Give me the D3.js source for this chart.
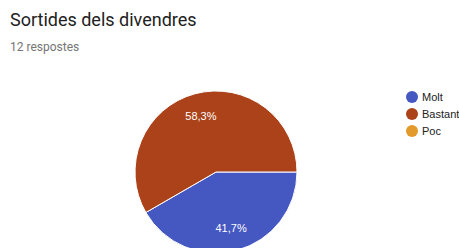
<!DOCTYPE html>
<html>
<head>
<meta charset="utf-8">
<script src="https://cdn.jsdelivr.net/npm/d3@7"></script>
<style>
  body { margin: 0; background: #fff; }
  svg { display: block; }
</style>
</head>
<body>
<svg></svg>
<script>
'use strict';

const categories = ["Molt", "Bastant", "Poc"];
const counts = [5, 7, 0];
const colors = ["#4557c1", "#ab4219", "#e29a2b"];
const title = "Sortides dels divendres";
const subtitle = "12 respostes";

const width = 459, height = 248;
const svg = d3.select("svg").attr("width", width).attr("height", height);

svg.append("text")
  .attr("x", 10).attr("y", 26)
  .style("font-family", "Roboto, Arial, sans-serif")
  .style("font-size", "18px")
  .style("fill", "#212121")
  .text(title);

svg.append("text")
  .attr("x", 10).attr("y", 51)
  .style("font-family", "Roboto, Arial, sans-serif")
  .style("font-size", "12px")
  .style("fill", "#757575")
  .text(subtitle);

const total = d3.sum(counts);
const data = categories.map((c, i) => ({ name: c, value: counts[i], color: colors[i] }));

const radius = 81;
const pie = d3.pie().value(d => d.value).sort(null)
  .startAngle(Math.PI / 2).endAngle(Math.PI / 2 + 2 * Math.PI);
const arc = d3.arc().innerRadius(0).outerRadius(radius);
const labelArc = d3.arc().innerRadius(radius * 0.72).outerRadius(radius * 0.72);

const g = svg.append("g").attr("transform", "translate(216,172)");
const arcs = pie(data).filter(d => d.data.value > 0);

g.selectAll("path")
  .data(arcs)
  .enter()
  .append("path")
  .attr("d", arc)
  .attr("fill", d => d.data.color)
  .attr("stroke", "#fff")
  .attr("stroke-width", 1);

const fmt = v => (v * 100).toFixed(1).replace(".", ",") + "%";

g.selectAll(".lbl")
  .data(arcs)
  .enter()
  .append("text")
  .attr("class", "lbl")
  .attr("transform", d => `translate(${labelArc.centroid(d)})`)
  .attr("text-anchor", "middle")
  .attr("dy", "0.35em")
  .style("font-family", "Arial, 'Liberation Sans', sans-serif")
  .style("font-size", "11px")
  .style("fill", "#fff")
  .text(d => fmt(d.data.value / total));

const legend = svg.append("g").selectAll("g")
  .data(data)
  .enter()
  .append("g")
  .attr("transform", (d, i) => `translate(412,${97 + i * 17})`);

legend.append("circle").attr("r", 6).attr("fill", d => d.color);
legend.append("text")
  .attr("x", 10).attr("dy", "0.35em")
  .style("font-family", "Arial, 'Liberation Sans', sans-serif")
  .style("font-size", "11px")
  .style("fill", "#222")
  .text(d => d.name);
</script>
</body>
</html>
